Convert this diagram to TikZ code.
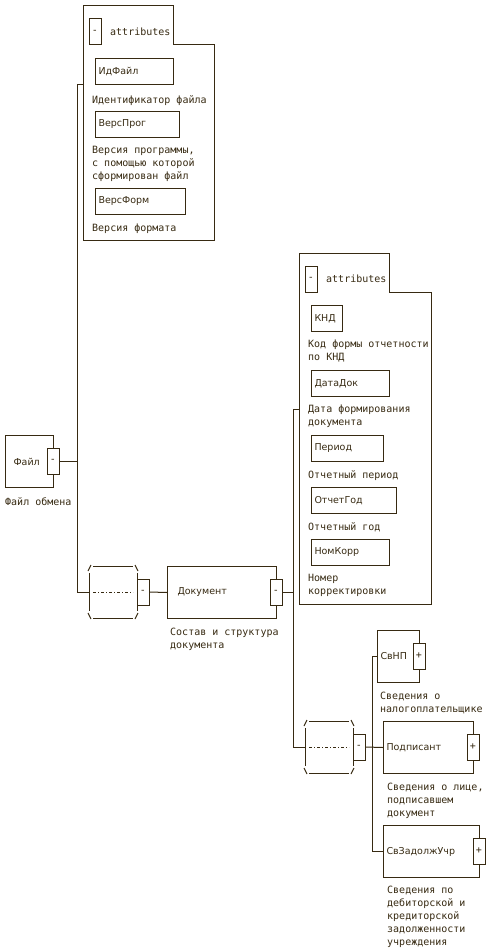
\documentclass[tikz,border=0pt]{standalone}
\usepackage{fontspec}
\usepackage{tikz}
\newfontfamily\monofont{DejaVu Sans Mono}
\newfontfamily\namefont{DejaVu Sans}
\definecolor{ink}{RGB}{55,42,18}
\tikzset{
  wire/.style={draw=ink, line width=1pt},
  elem/.style={
    rectangle, draw=ink, line width=1pt, anchor=north west, align=left,
    minimum height=52pt, inner sep=0pt, inner xsep=3pt,
    text=ink, font=\namefont\fontsize{9.5}{11}\selectfont
  },
  attr/.style={elem, minimum height=26pt},
  pm/.style={
    rectangle, draw=ink, fill=white, line width=1pt, inner sep=0pt,
    minimum width=12pt, minimum height=26pt, text=ink,
    font=\monofont\fontsize{10}{13}\selectfont
  },
  desc/.style={
    anchor=north west, align=left, inner sep=0pt, text=ink,
    font=\monofont\fontsize{10}{13}\selectfont
  },
  seq/.style={rectangle, minimum width=48pt, minimum height=52pt, inner sep=0pt}
}
% compositor marks round a named seq node
\newcommand{\seqmarks}[1]{%
  \draw[wire] ([shift={(-25,-21)}]#1.center) -- ([shift={(-22,-27)}]#1.center);
  \draw[wire] ([shift={(-20,-26)}]#1.center) -- ([shift={(20,-26)}]#1.center);
  \draw[wire] ([shift={(22,-27)}]#1.center) -- ([shift={(25,-21)}]#1.center);
  \draw[wire] ([shift={(-24,-19)}]#1.center) -- ([shift={(-24,19)}]#1.center);
  \draw[wire] ([shift={(24,-19)}]#1.center) -- ([shift={(24,19)}]#1.center);
  \draw[wire] ([shift={(-25,21)}]#1.center) -- ([shift={(-22,27)}]#1.center);
  \draw[wire] ([shift={(-20,26)}]#1.center) -- ([shift={(20,26)}]#1.center);
  \draw[wire] ([shift={(22,27)}]#1.center) -- ([shift={(25,21)}]#1.center);
  \draw[wire, dash pattern=on 3pt off 2pt on 1pt off 2pt]
    ([shift={(-20,0)}]#1.center) -- ([shift={(20,0)}]#1.center);
}

\begin{document}
\begin{tikzpicture}[x=1pt, y=-1pt]
  \useasboundingbox (0,0) rectangle (492,950);

  % root element
  \node[elem, text width=32pt, inner xsep=8pt] (file) at (5,435) {Файл};
  \node[pm] (pmFile) at (53,461) {-};
  \node[desc] (dFile) at (5,497) {Файл обмена};

  % attributes of Файл
  \draw[wire] (83,6) -- (173,6) -- (173,45) -- (214,45) -- (214,240) -- (83,240) -- cycle;
  \node[pm] (pmAttA) at (95,32) {-};
  \node[desc, anchor=west] (tAttA) at (110,32) {attributes};
  \coordinate (attAin) at (83,84);
  \node[attr, text width=72pt] (idfile) at (95,58) {ИдФайл};
  \node[desc] (dIdfile) at (92,95) {Идентификатор файла};
  \node[attr, text width=78pt] (versprog) at (95,111) {ВерсПрог};
  \node[desc] (dVersprog) at (92,146) {Версия программы,\\с помощью которой\\сформирован файл};
  \node[attr, text width=84pt] (versform) at (95,188) {ВерсФорм};
  \node[desc] (dVersform) at (92,224) {Версия формата};

  % sequence under Файл
  \node[seq] (seqA) at (113,592) {};
  \seqmarks{seqA}
  \node[pm] (pmSeqA) at (143,592) {-};

  \node[elem, text width=89pt, inner xsep=10pt] (doc) at (167,566) {Документ};
  \node[pm] (pmDoc) at (276,592) {-};
  \node[desc] (dDoc) at (170,628) {Состав и структура\\документа};

  % attributes of Документ
  \draw[wire] (299,253) -- (389,253) -- (389,292) -- (431,292) -- (431,604) -- (299,604) -- cycle;
  \node[pm] (pmAttB) at (311,279) {-};
  \node[desc, anchor=west] (tAttB) at (326,279) {attributes};
  \coordinate (attBin) at (299,409);
  \node[attr, text width=25pt] (knd) at (311,305) {КНД};
  \node[desc] (dKnd) at (308,340) {Код формы отчетности\\по КНД};
  \node[attr, text width=72pt] (datadok) at (311,370) {ДатаДок};
  \node[desc] (dDatadok) at (308,405) {Дата формирования\\документа};
  \node[attr, text width=66pt] (period) at (311,435) {Период};
  \node[desc] (dPeriod) at (308,470) {Отчетный период};
  \node[attr, text width=79pt] (otchgod) at (311,487) {ОтчетГод};
  \node[desc] (dOtchgod) at (308,522) {Отчетный год};
  \node[attr, text width=72pt] (nomkorr) at (311,539) {НомКорр};
  \node[desc] (dNomkorr) at (308,574) {Номер\\корректировки};

  % sequence under Документ
  \node[seq] (seqB) at (329,747) {};
  \seqmarks{seqB}
  \node[pm] (pmSeqB) at (359,747) {-};

  \node[elem, text width=36pt] (svnp) at (377,630) {СвНП};
  \node[pm] (pmSvnp) at (419,656) {+};
  \node[desc] (dSvnp) at (380,692) {Сведения о\\налогоплательщике};
  \node[elem, text width=84pt] (signer) at (383,721) {Подписант};
  \node[pm] (pmSigner) at (473,747) {+};
  \node[desc] (dSigner) at (387,783) {Сведения о лице,\\подписавшем\\документ};
  \node[elem, text width=90pt] (debt) at (383,825) {СвЗадолжУчр};
  \node[pm] (pmDebt) at (479,851) {+};
  \node[desc] (dDebt) at (387,886) {Сведения по\\дебиторской и\\кредиторской\\задолженности\\учреждения};

  % connectors
  \coordinate (busA) at (77,84);
  \coordinate (busB) at (293,409);
  \draw[wire] (attAin) -- (busA) |- (seqA.west);
  \draw[wire] (pmFile.east) -- (pmFile.east -| busA);
  \draw[wire] (attBin) -- (busB) |- (seqB.west);
  \draw[wire] (pmDoc.east) -- (pmDoc.east -| busB);
  \draw[wire] (pmSeqA.east) -- (doc.west);
  \draw[wire] (pmSeqB.east) -- (signer.west);
  \draw[wire] (svnp.west) -- ++(-5,0) |- (debt.west);
\end{tikzpicture}
\end{document}
